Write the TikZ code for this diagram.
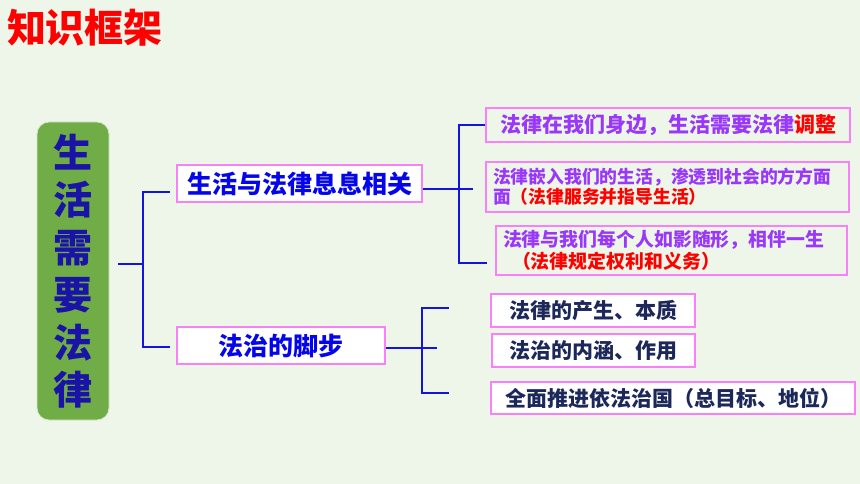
\documentclass[tikz,border=0pt]{standalone}
\usepackage{fontspec}
\usepackage{xcolor}
\usepackage{tikz}
\newfontfamily\cjk{Noto Sans CJK SC}
\definecolor{bgcol}{RGB}{238,245,233}
\definecolor{pinkline}{RGB}{250,128,250}
\definecolor{lineblue}{RGB}{20,20,225}
\definecolor{leafgreen}{RGB}{112,173,71}
\definecolor{rootblue}{RGB}{25,20,165}
\definecolor{headblue}{RGB}{5,5,235}
\definecolor{lawpurple}{RGB}{153,55,250}
\definecolor{stepnavy}{RGB}{28,40,90}

\begin{document}
\begin{tikzpicture}[x=1pt,y=-1pt,
  box/.style={draw=pinkline, line width=1.2pt, inner sep=0pt, font=\cjk\bfseries},
  conn/.style={draw=lineblue, line width=1.3pt}]
\useasboundingbox[fill=bgcol] (0,0) rectangle (860,484);
\node[text=red, font=\cjk\bfseries\fontsize{39}{40}\selectfont] (title) at (85,28) {知识框架};
\node[fill=leafgreen, draw={rgb,255:red,215;green,232;blue,205}, line width=0.8pt, rounded corners=12pt,
  minimum width=72pt, minimum height=298pt, inner sep=0pt, align=center, text=rootblue,
  font=\cjk\bfseries\fontsize{39}{47.5}\selectfont] (root) at (73,271) {生\\活\\需\\要\\法\\律};
% second level
\node[box, fill=white, text=headblue, minimum width=245pt, minimum height=37pt,
  font=\cjk\bfseries\fontsize{25}{28}\selectfont] (l1) at (299.5,183.5) {生活与法律息息相关};
\node[box, fill=white, text=headblue, minimum width=208pt, minimum height=37pt,
  font=\cjk\bfseries\fontsize{25}{28}\selectfont] (l2) at (281,345.5) {法治的脚步};
% third level
\node[box, text=lawpurple, minimum width=364pt, minimum height=34pt,
  font=\cjk\bfseries\fontsize{21}{24}\selectfont] (r1) at (668,125) {法律在我们身边，生活需要法律\textcolor{red}{调整}};
\node[box, text=lawpurple, minimum width=363pt, minimum height=50pt, inner xsep=7pt, text width=349pt, align=left,
  font=\cjk\bfseries\fontsize{17.8}{20}\selectfont] (r2) at (667.5,187) {法律嵌入我们的生活，渗透到社会的方方面\\面\textcolor{red}{（法律服务并指导生活）}};
\node[box, text=lawpurple, minimum width=351pt, minimum height=49pt, inner xsep=7pt, text width=337pt, align=left,
  font=\cjk\bfseries\fontsize{18.9}{22}\selectfont] (r3) at (671.5,250.5) {法律与我们每个人如影随形，相伴一生\\\hspace*{9pt}\textcolor{red}{（法律规定权利和义务）}};
\node[box, fill=white, text=stepnavy, minimum width=204pt, minimum height=33pt,
  font=\cjk\bfseries\fontsize{21}{24}\selectfont] (s1) at (593,310.5) {法律的产生、本质};
\node[box, fill=white, text=stepnavy, minimum width=203pt, minimum height=33pt,
  font=\cjk\bfseries\fontsize{21}{24}\selectfont] (s2) at (593.5,350.5) {法治的内涵、作用};
\node[box, fill=white, text=stepnavy, minimum width=364pt, minimum height=32pt,
  font=\cjk\bfseries\fontsize{21}{24}\selectfont] (s3) at (673,398) {全面推进依法治国（总目标、地位）};
% bracket points
\foreach \n/\x/\y in {a0/118/264, a1/143/264, a3/170/192, a4/143/347, a5/170/347,
  b1/473/189, b3/459/263, b5/487/263,
  c1/437/348, c2/449/308, c4/422/393, c5/449/393}
  \coordinate (\n) at (\x,\y);
\draw[conn] (a0) -- (a1);
\draw[conn] (a3) -| (a4) -- (a5);
\draw[conn] (l1.east |- b1) -- (b1);
\draw[conn] (r1.west) -| (b3) -- (b5);
\draw[conn] (l2.east |- c1) -- (c1);
\draw[conn] (c2) -| (c4) -- (c5);
\end{tikzpicture}
\end{document}
